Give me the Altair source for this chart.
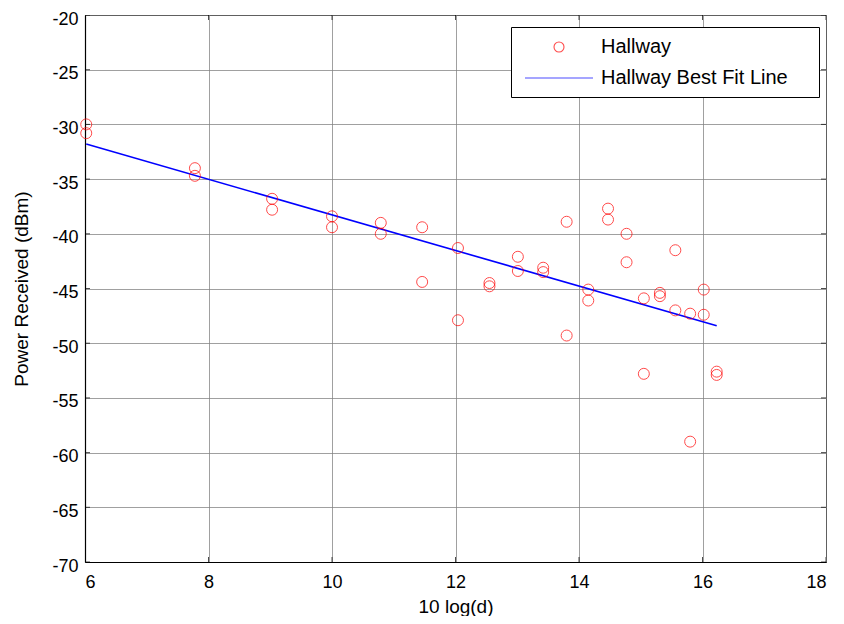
import altair as alt
import pandas as pd

# x = 10 log(d)
log_d = [6.02, 7.78, 9.03, 10.0, 10.79, 11.46, 12.04, 12.55, 13.01, 13.42,
         13.80, 14.15, 14.47, 14.77, 15.05, 15.31, 15.56, 15.80, 16.02, 16.23]
# two measurements per distance (dBm)
power_a = [-30.0, -34.0, -36.8, -38.4, -39.0, -39.4, -41.3, -44.5, -42.1, -43.1,
           -38.9, -45.1, -37.7, -40.0, -45.9, -45.4, -41.5, -47.3, -45.1, -52.6]
power_b = [-30.8, -34.7, -37.8, -39.4, -40.0, -44.4, -47.9, -44.8, -43.4, -43.5,
           -49.3, -46.1, -38.7, -42.6, -52.8, -45.7, -47.0, -59.0, -47.4, -52.9]
# best fit line end points
fit_x = [6.02, 16.23]
fit_y = [-31.8, -48.4]

series = ["Hallway", "Hallway Best Fit Line"]
x_ticks = [6, 8, 10, 12, 14, 16, 18]
y_ticks = [-70, -65, -60, -55, -50, -45, -40, -35, -30, -25, -20]
x_lim = [6, 18]
y_lim = [-70, -20]

pts = pd.DataFrame({
    "x": log_d + log_d,
    "y": power_a + power_b,
    "series": [series[0]] * (2 * len(log_d)),
})
fit = pd.DataFrame({"x": fit_x, "y": fit_y, "series": [series[1]] * 2})
ytk = pd.DataFrame({"y": y_ticks * 2, "x": [x_lim[0]] * len(y_ticks) + [x_lim[1]] * len(y_ticks)})
xtk = pd.DataFrame({"x": x_ticks * 2, "y": [y_lim[0]] * len(x_ticks) + [y_lim[1]] * len(x_ticks)})

FONT = "Liberation Sans"
circle_path = "M-0.5,0A0.5,0.5,0,1,0,0.5,0A0.5,0.5,0,1,0,-0.5,0Z"
line_path = "M-3.4,0L3.4,0"

xs = alt.Scale(domain=x_lim, nice=False, zero=False)
ys = alt.Scale(domain=y_lim, nice=False, zero=False)

xax = alt.Axis(values=x_ticks, title="10 log(d)", grid=True, ticks=False,
               labelPadding=11, titlePadding=6, labelExpr="toString(datum.value)")
yax = alt.Axis(values=y_ticks, title="Power Received (dBm)", grid=True, ticks=False,
               labelPadding=7, titlePadding=20, labelOffset=4,
               labelExpr="toString(datum.value)")

leg = alt.Legend(title=None, orient="none", legendX=426, legendY=12,
                 symbolStrokeWidth=1.1, symbolSize=400, symbolOffset=28,
                 labelOffset=31, padding=9, rowPadding=10, labelLimit=400,
                 labelExpr="datum.label + '\u00a0\u00a0\u00a0\u00a0\u200b'")

color = alt.Color("series:N", scale=alt.Scale(domain=series, range=["#ff0000", "#0000ff"]),
                  legend=leg)
shape = alt.Shape("series:N", scale=alt.Scale(domain=series, range=[circle_path, line_path]),
                  legend=leg)

points = alt.Chart(pts).mark_point(filled=False, size=484, strokeWidth=1).encode(
    x=alt.X("x:Q", scale=xs, axis=xax),
    y=alt.Y("y:Q", scale=ys, axis=yax),
    color=color,
    shape=shape,
)

line = alt.Chart(fit).mark_line(color="#0000ff", strokeWidth=1.6).encode(
    x=alt.X("x:Q", scale=xs),
    y=alt.Y("y:Q", scale=ys),
)

yticks_in = alt.Chart(ytk).mark_tick(orient="horizontal", size=10, thickness=1,
                                     color="#000000", clip=True).encode(
    x=alt.X("x:Q", scale=xs), y=alt.Y("y:Q", scale=ys))
xticks_in = alt.Chart(xtk).mark_tick(orient="vertical", size=10, thickness=1,
                                     color="#000000", clip=True).encode(
    x=alt.X("x:Q", scale=xs), y=alt.Y("y:Q", scale=ys))

chart = alt.layer(yticks_in, xticks_in, line, points).properties(
    width=741, height=547,
    autosize=alt.AutoSizeParams(type="none"),
    padding={"left": 77, "top": 7, "right": 10, "bottom": 54},
).configure_view(
    stroke="#000000", strokeWidth=1,
).configure_axis(
    labelFont=FONT, titleFont=FONT, labelFontSize=18, titleFontSize=19,
    titleFontWeight="normal", labelColor="#000000", titleColor="#000000",
    gridColor="#808080", gridOpacity=0.75, gridWidth=1,
    domainColor="#000000", domainWidth=1.2,
).configure_legend(
    labelFont=FONT, labelFontSize=20, labelColor="#000000",
    strokeColor="#000000", fillColor="#ffffff", cornerRadius=0,
)

chart.save("out.html", embed_options={"renderer": "svg", "actions": False})
